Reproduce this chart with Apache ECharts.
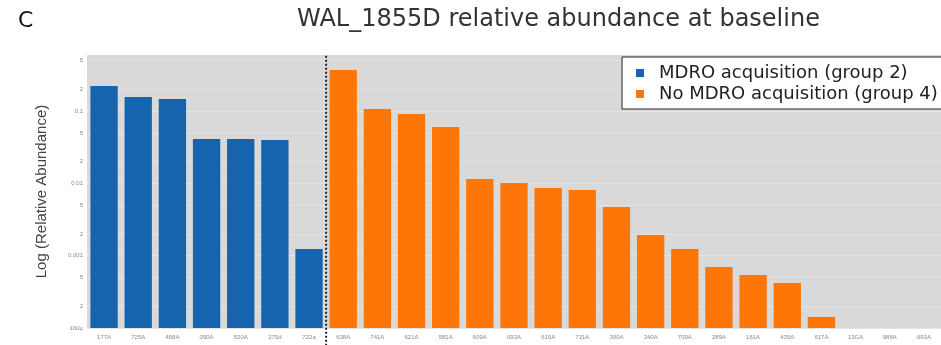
<!DOCTYPE html>
<html>
<head>
<meta charset="utf-8">
<script src="https://cdn.jsdelivr.net/npm/echarts@6/dist/echarts.min.js"></script>
<style>
  html, body { margin: 0; padding: 0; background: #fff; }
  #main { width: 941px; height: 345px; }
</style>
</head>
<body>
<div id="main"></div>
<script>
// samples, group 2 then group 4
var group2Names = ['177A', '725A', '468A', '090A', '520A', '275d', '722a'];
var group2Values = [0.222, 0.157, 0.147, 0.0411, 0.0411, 0.0398, 0.00124];
var group4Names = ['638A', '741A', '621A', '581A', '609A', '093A', '619A', '731A', '300A',
    '340A', '709A', '289A', '181A', '435A', '617A', '13GA', '988A', '693A'];
var group4Values = [0.370, 0.107, 0.0912, 0.0603, 0.0115, 0.0101, 0.00864, 0.00811, 0.00472,
    0.00193, 0.00124, 0.000698, 0.000541, 0.000419, 0.000142, null, null, null];
var tickValues = [1e-4, 2e-4, 5e-4, 1e-3, 2e-3, 5e-3, 0.01, 0.02, 0.05, 0.1, 0.2, 0.5];
var tickLabels = ['100µ', '2', '5', '0.001', '2', '5', '0.01', '2', '5', '0.1', '2', '5'];
var axisMinValue = 1e-4;
var axisMaxValue = 0.597;

// bars are plotted as decades above 100µ (log axis would start bars at 1)
function toLog(v) { return Math.log10(v / axisMinValue); }

var categories = group2Names.concat(group4Names);
var blueData = categories.map(function (c, i) {
    return i < group2Values.length ? toLog(group2Values[i]) : '-';
});
var orangeData = categories.map(function (c, i) {
    var j = i - group2Values.length;
    if (j < 0 || group4Values[j] == null) return '-';
    return toLog(group4Values[j]);
});
var tickPos = tickValues.map(toLog);
var yMax = toLog(axisMaxValue);

const Chart = echarts.init(document.getElementById('main'), null, { renderer: 'canvas' });

var option = {
    animation: false,
    title: [{
        text: 'C',
        left: 13,
        top: 5,
        textStyle: { fontFamily: 'DejaVu Sans', fontSize: 22, fontWeight: 'normal', color: '#111' }
    }, {
        text: 'WAL_1855D relative abundance at baseline',
        left: 292,
        top: 3,
        textStyle: { fontFamily: 'DejaVu Sans', fontSize: 24, fontWeight: 'normal', color: '#333' }
    }],
    legend: {
        data: ['MDRO acquisition (group 2)', 'No MDRO acquisition (group 4)'],
        orient: 'vertical',
        left: 622,
        top: 57,
        icon: 'rect',
        itemWidth: 8,
        itemHeight: 8,
        itemGap: 3,
        padding: [7, 30, 6, 14],
        backgroundColor: '#fff',
        borderColor: '#222',
        borderWidth: 1,
        textStyle: { fontFamily: 'DejaVu Sans', fontSize: 18, color: '#222', padding: [0, 0, 0, 10] }
    },
    grid: {
        left: 87,
        top: 55,
        width: 865,
        height: 273,
        show: true,
        backgroundColor: '#d9d9d9',
        borderWidth: 0
    },
    xAxis: [{
        type: 'category',
        data: categories,
        axisLine: { show: false },
        axisTick: { show: false },
        axisLabel: { interval: 0, fontSize: 6, color: '#888', margin: 6 }
    }, {
        type: 'value',
        min: 0,
        max: categories.length,
        show: false
    }],
    yAxis: {
        type: 'value',
        min: 0,
        max: yMax,
        name: 'Log (Relative Abundance)',
        nameLocation: 'middle',
        nameGap: 38,
        nameTextStyle: { fontFamily: 'Liberation Sans', fontSize: 15, color: '#444' },
        axisLine: { show: false },
        axisTick: { show: false, customValues: tickPos },
        axisLabel: {
            customValues: tickPos,
            fontSize: 6,
            color: '#888',
            margin: 4,
            formatter: function (val) {
                for (var i = 0; i < tickPos.length; i++) {
                    if (Math.abs(tickPos[i] - val) < 1e-6) return tickLabels[i];
                }
                return '';
            }
        },
        splitLine: { show: true, lineStyle: { color: '#e4e4e4', width: 1 } }
    },
    series: [{
        name: 'MDRO acquisition (group 2)',
        type: 'bar',
        stack: 'g',
        data: blueData,
        barCategoryGap: '20%',
        itemStyle: { color: '#1764ae' }
    }, {
        name: 'No MDRO acquisition (group 4)',
        type: 'bar',
        stack: 'g',
        data: orangeData,
        barCategoryGap: '20%',
        itemStyle: { color: '#ff7608' }
    }, {
        // group divider
        type: 'line',
        xAxisIndex: 1,
        clip: false,
        symbol: 'none',
        silent: true,
        data: [[group2Names.length, -0.3], [group2Names.length, yMax]],
        lineStyle: { color: '#222', type: 'dotted', width: 2 }
    }]
};
Chart.setOption(option, true);
</script>
</body>
</html>
